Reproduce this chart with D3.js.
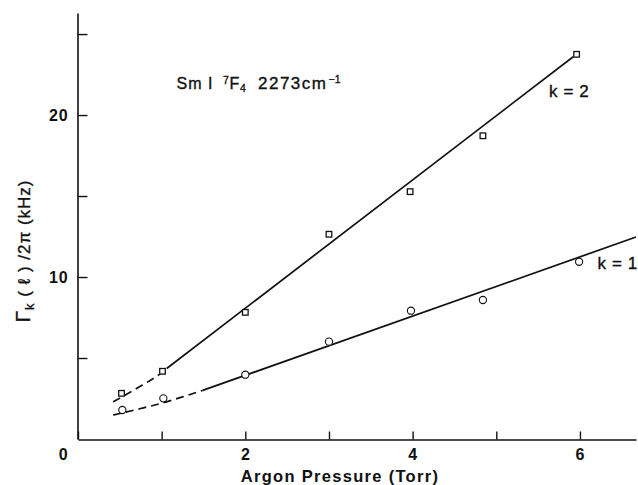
<!DOCTYPE html>
<html>
<head>
<meta charset="utf-8">
<script src="https://cdn.jsdelivr.net/npm/d3@7"></script>
<style>
  html, body { margin: 0; padding: 0; background: #fff; }
  svg { display: block; font-family: "Liberation Sans", Arial, Helvetica, sans-serif; }
</style>
</head>
<body>
<svg id="chart" width="638" height="485"></svg>
<script>
// Relaxation rate Γk(ℓ)/2π versus argon pressure, Sm I 7F4 level
const pressureK2 = [0.52, 1.01, 2.0, 3.0, 3.97, 4.84, 5.96];
const rateK2     = [2.82, 4.18, 7.82, 12.64, 15.27, 18.72, 23.75];
const pressureK1 = [0.53, 1.02, 2.0, 3.0, 3.98, 4.84, 5.99];
const rateK1     = [1.79, 2.51, 3.97, 6.01, 7.92, 8.58, 10.94];

// Fitted curves: dashed low-pressure part and straight solid part
const fitK2DashX  = [0.42, 0.7, 1.0, 1.06];
const fitK2DashY  = [2.30, 3.12, 4.10, 4.35];
const fitK2SolidX = [1.06, 5.92];
const fitK2SolidY = [4.35, 23.60];
const fitK1DashX  = [0.42, 0.75, 1.02, 1.25, 1.49];
const fitK1DashY  = [1.48, 1.88, 2.24, 2.60, 3.00];
const fitK1SolidX = [1.49, 6.67];
const fitK1SolidY = [3.00, 12.47];

const yTicks = [5, 10, 15, 20, 25];
const yLabels = [10, 20];
const xTicks = [0, 1, 2, 3, 4, 5, 6];
const xLabels = [0, 2, 4, 6];

const svg = d3.select("#chart");
const x = d3.scaleLinear().domain([0, 6.67]).range([78, 636]);
const y = d3.scaleLinear().domain([0, 26.3]).range([439, 13]);

const zip = (xs, ys) => xs.map((v, i) => [v, ys[i]]);
const line = d3.line().x(d => x(d[0])).y(d => y(d[1])).curve(d3.curveMonotoneX);

// Axes
const yAxis = d3.axisLeft(y)
  .tickValues(yTicks)
  .tickSizeInner(-10).tickSizeOuter(0).tickPadding(9)
  .tickFormat(d => yLabels.includes(d) ? d : "");
const gy = svg.append("g").attr("transform", "translate(77.5,0)").call(yAxis);

const xAxis = d3.axisBottom(x)
  .tickValues(xTicks)
  .tickSizeInner(-8).tickSizeOuter(0).tickPadding(9)
  .tickFormat(d => xLabels.includes(d) ? d : "");
const gx = svg.append("g").attr("transform", "translate(0,439.5)").call(xAxis);

[gx, gy].forEach(g => {
  g.select(".domain").attr("stroke", "#111").attr("stroke-width", 1.6);
  g.selectAll(".tick line").attr("stroke", "#111").attr("stroke-width", 1.4);
  g.selectAll(".tick text")
    .attr("fill", "#111")
    .attr("font-size", 16)
    .attr("font-weight", "bold")
    .attr("letter-spacing", 0.8)
    .attr("font-family", "'Liberation Sans', Arial, Helvetica, sans-serif");
});
gx.selectAll(".tick").filter(d => d === 0).select("text").attr("x", -15);

// Fit curves
const curves = [
  [fitK2DashX, fitK2DashY, "8,5"],
  [fitK2SolidX, fitK2SolidY, null],
  [fitK1DashX, fitK1DashY, "8,5"],
  [fitK1SolidX, fitK1SolidY, null]
];
curves.forEach(([xs, ys, dash]) => {
  svg.append("path")
    .attr("d", line(zip(xs, ys)))
    .attr("fill", "none")
    .attr("stroke", "#111")
    .attr("stroke-width", 1.7)
    .attr("stroke-dasharray", dash);
});

// k = 2 squares
svg.append("g").selectAll("rect")
  .data(zip(pressureK2, rateK2))
  .join("rect")
  .attr("x", d => x(d[0]) - 2.8)
  .attr("y", d => y(d[1]) - 2.8)
  .attr("width", 5.6).attr("height", 5.6)
  .attr("fill", "#fff").attr("stroke", "#111").attr("stroke-width", 1.3);

// k = 1 circles
svg.append("g").selectAll("circle")
  .data(zip(pressureK1, rateK1))
  .join("circle")
  .attr("cx", d => x(d[0]))
  .attr("cy", d => y(d[1]))
  .attr("r", 3.6)
  .attr("fill", "#fff").attr("stroke", "#111").attr("stroke-width", 1.1);

// Regular-weight text gets a thin outline so it reads a little heavier
const heavy = sel => sel.attr("fill", "#111").attr("stroke", "#111").attr("stroke-width", 0.35);

// Level annotation
const note = svg.append("text")
  .attr("y", 88.5)
  .attr("font-size", 16).call(heavy);
note.append("tspan").attr("x", 176.5).attr("letter-spacing", 1.2).text("Sm");
note.append("tspan").attr("x", 208).text("I");
note.append("tspan").attr("x", 223).attr("font-size", 10.5).attr("dy", -5).text("7");
note.append("tspan").attr("x", 229.5).attr("dy", 5).text("F");
note.append("tspan").attr("x", 240).attr("font-size", 10.5).attr("dy", 3).text("4");
note.append("tspan").attr("x", 258).attr("dy", -3).attr("font-size", 17).attr("letter-spacing", 1.5).text("2273cm");
note.append("tspan").attr("x", 328.5).attr("font-size", 10.5).attr("dy", -6).text("−1");

svg.append("text").attr("x", 549).attr("y", 96.5)
  .attr("font-size", 17).attr("letter-spacing", 0.6).call(heavy).text("k = 2");
svg.append("text").attr("x", 597.5).attr("y", 268.5)
  .attr("font-size", 17).attr("letter-spacing", 0.6).call(heavy).text("k = 1");

// Axis titles
svg.append("text")
  .attr("x", 340).attr("y", 481.5)
  .attr("text-anchor", "middle")
  .attr("font-size", 16.5).attr("font-weight", "bold").attr("letter-spacing", 1.3)
  .attr("fill", "#111")
  .text("Argon Pressure (Torr)");

const yt = svg.append("text")
  .attr("transform", "translate(30,251) rotate(-90)")
  .attr("text-anchor", "middle")
  .attr("font-size", 17).attr("letter-spacing", 1).call(heavy);
yt.append("tspan").attr("font-size", 21).text("Γ");
yt.append("tspan").attr("font-size", 13).attr("dy", 4).text("k");
yt.append("tspan").attr("dy", -4).text(" ( ℓ ) /2π (kHz)");
</script>
</body>
</html>
